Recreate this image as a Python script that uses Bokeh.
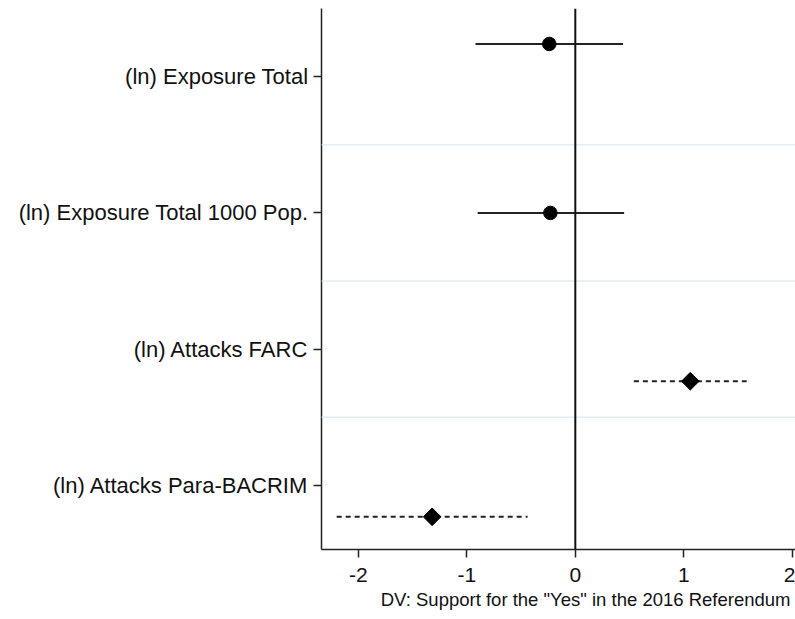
import math
from bokeh.plotting import figure
from bokeh.models import Range1d, FixedTicker, Span, ColumnDataSource, Title
from bokeh.embed import file_html
from bokeh.resources import INLINE

# Data
labels = ["(ln) Exposure Total", "(ln) Exposure Total 1000 Pop.",
          "(ln) Attacks FARC", "(ln) Attacks Para-BACRIM"]
positions = [1, 2, 3, 4]
row_offset = [-0.24, 0.0, 0.235, 0.23]
coef = [-0.24, -0.23, 1.06, -1.32]
ci_low = [-0.92, -0.90, 0.54, -2.20]
ci_high = [0.44, 0.45, 1.58, -0.44]
marker_kind = ["circle", "circle", "diamond", "diamond"]
x_ticks = [-2, -1, 0, 1, 2]
x_title = 'DV: Support for the "Yes" in the 2016 Referendum'

ypos = [p + o for p, o in zip(positions, row_offset)]

p = figure(width=795, height=619, output_backend="svg", toolbar_location=None,
           x_range=Range1d(-2.34, 2.03), y_range=Range1d(4.47, 0.5),
           min_border_left=321, min_border_right=0, min_border_top=8,
           min_border_bottom=70)
p.outline_line_color = None
p.background_fill_color = "white"
p.border_fill_color = "white"
p.xgrid.visible = False
p.ygrid.visible = False

# separators
for s in [1.5, 2.5, 3.5]:
    p.add_layout(Span(location=s, dimension="width", line_color="#e4edef", line_width=1.5))

# zero line
p.add_layout(Span(location=0, dimension="height", line_color="#111111", line_width=2))

solid_idx = [i for i, k in enumerate(marker_kind) if k == "circle"]
dash_idx = [i for i, k in enumerate(marker_kind) if k == "diamond"]

src_c = ColumnDataSource(dict(x=[coef[i] for i in solid_idx], y=[ypos[i] for i in solid_idx],
                              lo=[ci_low[i] for i in solid_idx], hi=[ci_high[i] for i in solid_idx]))
src_d = ColumnDataSource(dict(x=[coef[i] for i in dash_idx], y=[ypos[i] for i in dash_idx],
                              lo=[ci_low[i] for i in dash_idx], hi=[ci_high[i] for i in dash_idx]))

p.segment(x0="lo", x1="hi", y0="y", y1="y", source=src_c, line_color="#222222", line_width=2)
p.segment(x0="lo", x1="hi", y0="y", y1="y", source=src_d, line_color="#222222", line_width=2,
          line_dash="5 4")
p.scatter(x="x", y="y", source=src_c, marker="circle", size=13.5, fill_color="black",
          line_color="black")
p.scatter(x="x", y="y", source=src_d, marker="square", size=12.5, angle=math.pi / 4,
          fill_color="black", line_color="black")

# axes
p.xaxis.ticker = FixedTicker(ticks=x_ticks)
p.xaxis.major_label_overrides = {t: str(t) for t in x_ticks}
p.xaxis.major_label_text_font = "Liberation Sans"
p.xaxis.major_label_text_font_size = "21px"
p.xaxis.major_label_text_color = "#111111"
p.xaxis.major_label_standoff = 10
p.xaxis.minor_tick_line_color = None
p.xaxis.major_tick_in = 0
p.xaxis.major_tick_out = 8
p.xaxis.major_tick_line_width = 1.5
p.xaxis.axis_line_width = 1.5
p.xaxis.axis_line_color = "#222222"
p.xaxis.major_tick_line_color = "#222222"

p.add_layout(Title(text=x_title, align="right", offset=5, standoff=5,
                   text_font="Liberation Sans", text_font_size="18.5px",
                   text_font_style="normal", text_color="#111111"), "below")

p.yaxis.ticker = FixedTicker(ticks=positions)
p.yaxis.major_label_overrides = {pp: lab for pp, lab in zip(positions, labels)}
p.yaxis.major_label_text_font = "Liberation Sans"
p.yaxis.major_label_text_font_size = "22px"
p.yaxis.major_label_text_color = "#111111"
p.yaxis.major_label_standoff = 5
p.yaxis.minor_tick_line_color = None
p.yaxis.major_tick_in = 0
p.yaxis.major_tick_out = 8
p.yaxis.major_tick_line_width = 1.5
p.yaxis.axis_line_width = 1.5
p.yaxis.axis_line_color = "#222222"
p.yaxis.major_tick_line_color = "#222222"

open("out.html", "w").write(file_html(p, INLINE))
